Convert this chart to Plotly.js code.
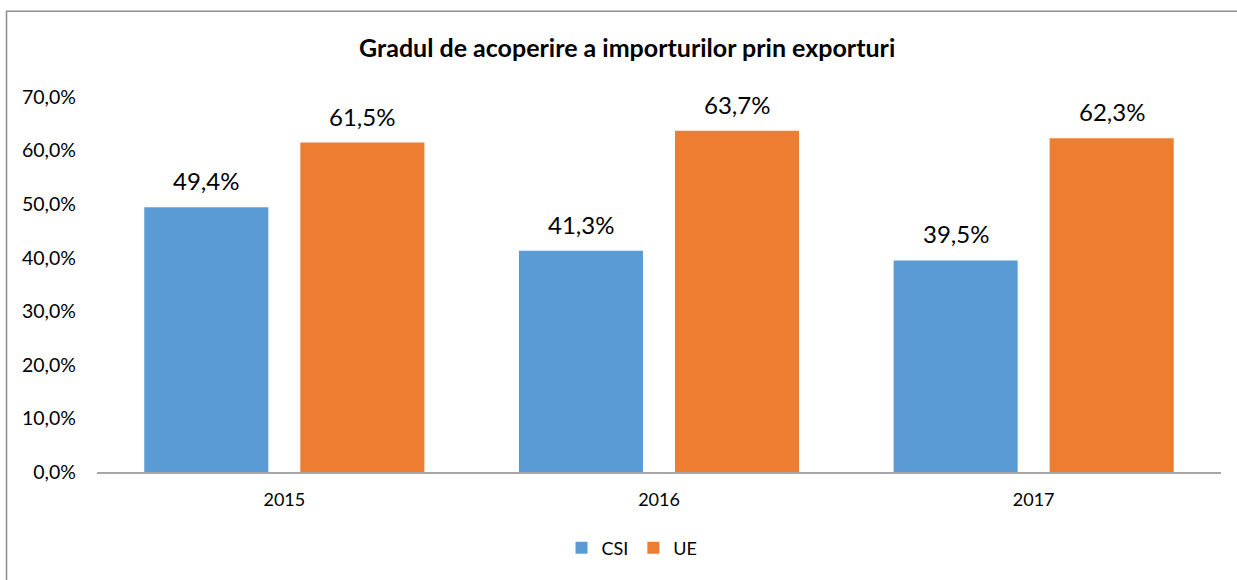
<!DOCTYPE html>
<html>
<head>
<meta charset="utf-8">
<script src="https://cdn.plot.ly/plotly-3.0.1.min.js"></script>
<style>html,body{margin:0;padding:0;background:#fff;}#chart{width:1237px;height:580px;}</style>
</head>
<body>
<div id="chart"></div>
<script>
const years = ['2015', '2016', '2017'];
const csiValues = [49.4, 41.3, 39.5];
const ueValues = [61.5, 63.7, 62.3];
const seriesNames = ['CSI', 'UE'];
const yTicks = [0, 10, 20, 30, 40, 50, 60, 70];

const FONT = 'Lato, "Open Sans", sans-serif';
const colors = ['#5B9BD5', '#ED7D31'];

const traces = [
  {type: 'bar', name: seriesNames[0], x: years, y: csiValues, marker: {color: colors[0]}, hoverinfo: 'skip'},
  {type: 'bar', name: seriesNames[1], x: years, y: ueValues, marker: {color: colors[1]}, hoverinfo: 'skip'}
];

const fmt = v => v.toFixed(1).replace('.', ',') + '%';
const annotations = [];
[csiValues, ueValues].forEach((vals, si) => {
  vals.forEach((v, i) => {
    annotations.push({
      x: i, y: v, xref: 'x', yref: 'y',
      text: fmt(v), showarrow: false,
      xanchor: 'center', yanchor: 'bottom',
      xshift: si === 0 ? -78 : 78, yshift: 10,
      font: {family: FONT, size: 24, color: '#000'}
    });
  });
});

const layout = {
  width: 1237, height: 580,
  margin: {l: 97, r: 16, t: 97, b: 108},
  paper_bgcolor: '#fff', plot_bgcolor: '#fff',
  separators: ', ',
  font: {family: FONT, size: 18, color: '#000'},
  title: {text: '<b>Gradul de acoperire a importurilor prin exporturi</b>', x: 0.507, xanchor: 'center', y: 0.917, yanchor: 'middle', font: {family: FONT, size: 25, color: '#000'}},
  barmode: 'group', bargap: 0.167, bargroupgap: 0.205,
  xaxis: {
    type: 'category', range: [-0.5, 2.5], autorange: false, showgrid: false, zeroline: false,
    showline: true, linecolor: '#A6A6A6', linewidth: 1.5,
    ticks: '', ticklabelstandoff: 11,
    tickfont: {family: FONT, size: 18, color: '#000'}
  },
  yaxis: {
    range: [0, 70], autorange: false, tickvals: yTicks, ticktext: yTicks.map(fmt),
    showgrid: false, zeroline: false, showline: false, ticks: '',
    ticklabelstandoff: 20,
    tickfont: {family: FONT, size: 19.5, color: '#000'}
  },
  showlegend: true,
  legend: {orientation: 'h', x: 0.476, xanchor: 'center', y: -0.203, yanchor: 'middle', font: {family: FONT, size: 18, color: '#000'}, itemwidth: 30, traceorder: 'normal'},
  annotations: annotations,
  shapes: [{type: 'rect', xref: 'paper', yref: 'paper', x0: -0.0805, x1: 1.3, y0: -0.6, y1: 1.229, line: {color: '#8C8C8C', width: 1.5}, fillcolor: 'rgba(0,0,0,0)', layer: 'below'}]
};

Plotly.newPlot('chart', traces, layout, {displayModeBar: false, staticPlot: true});
</script>
</body>
</html>
